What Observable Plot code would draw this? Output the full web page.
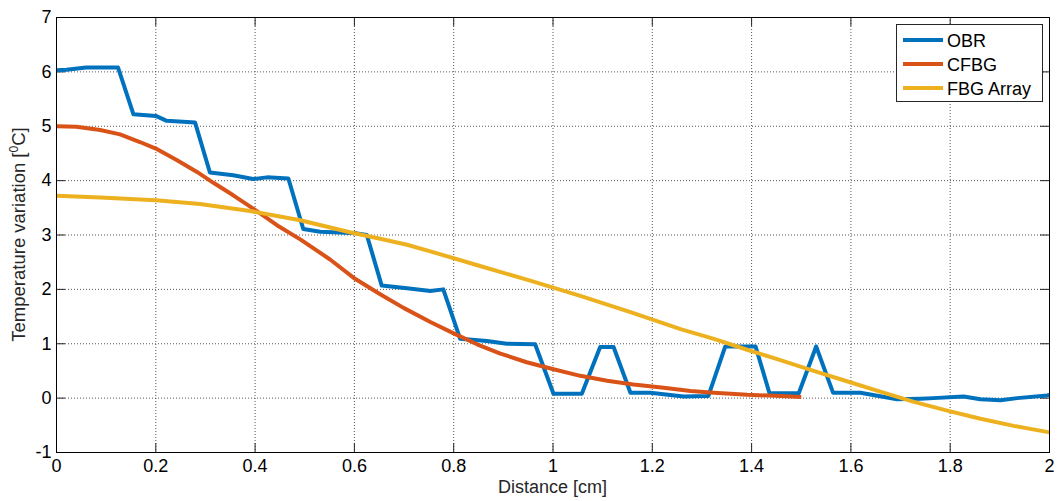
<!DOCTYPE html>
<html>
<head>
<meta charset="utf-8">
<script src="https://cdn.jsdelivr.net/npm/d3@7"></script>
<script src="https://cdn.jsdelivr.net/npm/@observablehq/plot@0.6"></script>
<style>
  html, body { margin: 0; padding: 0; background: #fff; }
  #chart { position: relative; width: 1057px; height: 501px; }
</style>
</head>
<body>
<div id="chart"></div>
<script>
// ---- data ----
const seriesNames = ["OBR", "CFBG", "FBG Array"];
const seriesColors = ["#0072BD", "#D95319", "#EDB120"];

const obrX = [0, 0.02, 0.06, 0.124, 0.155, 0.2, 0.222, 0.279, 0.309, 0.356, 0.396, 0.424, 0.467, 0.497, 0.531, 0.605, 0.625, 0.655, 0.706, 0.753, 0.779, 0.813, 0.867, 0.907, 0.964, 1.001, 1.058, 1.095, 1.122, 1.156, 1.196, 1.263, 1.313, 1.347, 1.408, 1.436, 1.495, 1.530, 1.564, 1.619, 1.693, 1.74, 1.766, 1.827, 1.861, 1.901, 1.935, 1.995, 2.0];
const obrY = [6.03, 6.04, 6.08, 6.08, 5.22, 5.19, 5.10, 5.07, 4.15, 4.10, 4.03, 4.06, 4.04, 3.11, 3.06, 3.03, 3.00, 2.07, 2.02, 1.97, 2.00, 1.09, 1.05, 1.00, 0.99, 0.08, 0.08, 0.94, 0.94, 0.10, 0.10, 0.03, 0.04, 0.95, 0.95, 0.09, 0.09, 0.95, 0.10, 0.10, -0.02, -0.01, 0.00, 0.03, -0.02, -0.04, 0.00, 0.05, 0.06];

const cfbgX = [0, 0.04, 0.088, 0.128, 0.168, 0.2, 0.242, 0.283, 0.316, 0.356, 0.397, 0.444, 0.491, 0.551, 0.602, 0.652, 0.699, 0.753, 0.80, 0.847, 0.894, 0.947, 1.001, 1.055, 1.109, 1.162, 1.223, 1.277, 1.324, 1.391, 1.458, 1.5];
const cfbgY = [5.0, 4.99, 4.93, 4.85, 4.71, 4.59, 4.38, 4.16, 3.96, 3.73, 3.48, 3.18, 2.92, 2.55, 2.19, 1.91, 1.66, 1.40, 1.19, 0.99, 0.82, 0.66, 0.53, 0.41, 0.32, 0.25, 0.19, 0.13, 0.10, 0.06, 0.04, 0.02];

const fbgX = [0, 0.088, 0.2, 0.289, 0.39, 0.491, 0.591, 0.652, 0.706, 0.753, 0.853, 0.954, 1.055, 1.156, 1.257, 1.324, 1.391, 1.458, 1.525, 1.592, 1.659, 1.727, 1.794, 1.861, 1.928, 2.0];
const fbgY = [3.72, 3.69, 3.64, 3.57, 3.44, 3.27, 3.05, 2.93, 2.82, 2.70, 2.43, 2.16, 1.88, 1.58, 1.27, 1.09, 0.89, 0.70, 0.50, 0.31, 0.12, -0.07, -0.23, -0.38, -0.51, -0.63];

const xTicks = [0, 0.2, 0.4, 0.6, 0.8, 1, 1.2, 1.4, 1.6, 1.8, 2];
const yTicks = [-1, 0, 1, 2, 3, 4, 5, 6, 7];
const xLabel = "Distance [cm]";
const yLabelParts = ["Temperature variation [", "0", "C]"];

// ---- build table ----
const rows = [];
[[obrX, obrY], [cfbgX, cfbgY], [fbgX, fbgY]].forEach(([xs, ys], i) => {
  xs.forEach((x, j) => rows.push({series: seriesNames[i], x, y: ys[j]}));
});

const W = 1057, H = 501;
const mL = 56, mR = 8, mT = 17, mB = 49;
const innerW = W - mL - mR, innerH = H - mT - mB;
const font = "'Liberation Sans', Arial, Helvetica, sans-serif";
const fmt = d => String(+d.toFixed(1));

const chart = Plot.plot({
  width: W, height: H,
  marginLeft: mL, marginRight: mR, marginTop: mT, marginBottom: mB,
  style: {fontFamily: font, fontSize: "18px", color: "#000", background: "#fff", overflow: "visible"},
  x: {domain: [0, 2]},
  y: {domain: [-1, 7]},
  color: {domain: seriesNames, range: seriesColors},
  marks: [
    Plot.gridX(xTicks, {stroke: "#444", strokeOpacity: 0.9, strokeDasharray: "1,2"}),
    Plot.gridY(yTicks, {stroke: "#444", strokeOpacity: 0.9, strokeDasharray: "1,2"}),
    // inward ticks on all four sides
    Plot.tickX(xTicks, {x: d => d, insetTop: innerH - 9, stroke: "#262626"}),
    Plot.tickX(xTicks, {x: d => d, insetBottom: innerH - 9, stroke: "#262626"}),
    Plot.tickY(yTicks, {y: d => d, insetRight: innerW - 9, stroke: "#262626"}),
    Plot.tickY(yTicks, {y: d => d, insetLeft: innerW - 9, stroke: "#262626"}),
    Plot.axisX(xTicks, {tickSize: 0, tickPadding: 7, tickFormat: fmt, label: null, fill: "#000", fontSize: 18}),
    Plot.axisY(yTicks, {tickSize: 0, tickPadding: 5, tickFormat: fmt, label: null, fill: "#000", fontSize: 18}),
    Plot.line(rows, {x: "x", y: "y", z: "series", stroke: "series", strokeWidth: 4, strokeLinejoin: "round", strokeLinecap: "butt"}),
    Plot.frame({stroke: "#000", strokeWidth: 1})
  ]
});

document.getElementById("chart").appendChild(chart);

// ---- axis titles and legend (drawn into the same SVG) ----
const svg = d3.select(chart);
svg.append("text")
  .attr("x", mL + innerW / 2).attr("y", 493)
  .attr("text-anchor", "middle")
  .attr("font-family", font).attr("font-size", 18).attr("fill", "#262626")
  .text(xLabel);

const yl = svg.append("text")
  .attr("transform", `translate(25,${mT + innerH / 2}) rotate(-90)`)
  .attr("text-anchor", "middle")
  .attr("font-family", font).attr("font-size", 18.5).attr("fill", "#262626");
yl.append("tspan").text(yLabelParts[0]);
yl.append("tspan").attr("font-size", 12).attr("dy", -7).text(yLabelParts[1]);
yl.append("tspan").attr("dy", 7).text(yLabelParts[2]);

const lg = svg.append("g").attr("font-family", font).attr("font-size", 18).attr("text-anchor", "start");
lg.append("rect").attr("x", 896.5).attr("y", 24.5).attr("width", 146).attr("height", 77)
  .attr("fill", "#fff").attr("stroke", "#262626").attr("stroke-width", 1);
seriesNames.forEach((name, i) => {
  const cy = 40 + i * 24;
  lg.append("line").attr("x1", 903).attr("x2", 943).attr("y1", cy).attr("y2", cy)
    .attr("stroke", seriesColors[i]).attr("stroke-width", 4);
  lg.append("text").attr("x", 947).attr("y", cy + 1).attr("dy", "0.36em")
    .attr("text-anchor", "start").attr("fill", "#000").text(name);
});
</script>
</body>
</html>
